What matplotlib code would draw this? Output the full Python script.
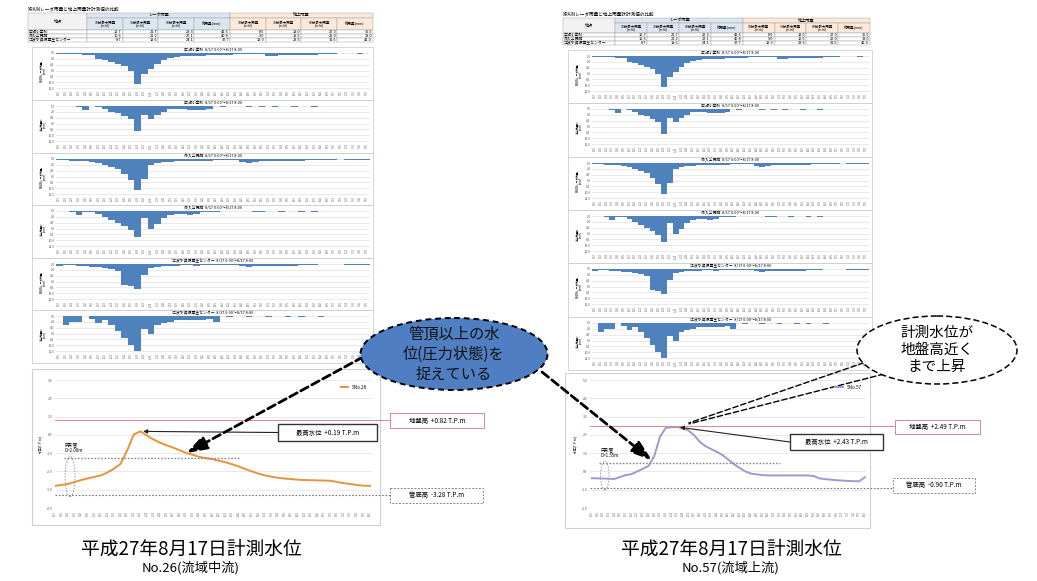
import numpy as np
import matplotlib
matplotlib.use("Agg")
import matplotlib.pyplot as plt
from matplotlib.patches import Rectangle, Ellipse

plt.rcParams['font.family'] = ['Noto Sans CJK JP', 'DejaVu Sans']

W, H = 1037, 581

# ---- table data ----
table_title = "XRAINレーダ雨量と地上雨量計計測値の比較"
stations = ["広瀬小学校", "舟入公民館", "江波水資源再生センター"]
col_heads = ["10分最大雨量\n(mm)", "30分最大雨量\n(mm)", "60分最大雨量\n(mm)", "総雨量(mm)"]
radar_tbl = [[10.7, 21.7, 29.3, 42.5], [10.6, 21.2, 27.1, 40.8], [8.7, 18.6, 24.1, 37.7]]
gauge_tbl = [[8.5, 18.0, 27.0, 35.5], [9.0, 19.5, 29.0, 38.0], [12.0, 23.5, 31.5, 42.0]]

# ---- 10 minute rainfall (mm), radar / gauge per station ----
radar_hirose = [0.2, 0.2, 0.3, 0.5, 0.8, 0.8, 2.2, 2.5, 3.0, 3.6, 4.6, 6.2, 10.7, 7.2, 5.3, 3.8,
                2.3, 1.6, 1.2, 1.0, 0.9, 0.9, 0.9, 0.8, 0.8, 0.7, 0.6, 0.5, 0.4, 0.3, 0.3, 0.5,
                0.9, 1.0, 0.8, 0.6, 0.7, 0.6, 0.6, 0.6, 0.5, 0.4, 0.2, 0.1, 0.1, 0.1, 0.2, 0.1]
gauge_hirose = [0, 0, 0, 0.5, 1.5, 0, 0.5, 1.0, 2.0, 2.5, 3.5, 4.5, 8.5, 3.0, 4.5, 3.0,
                2.0, 1.0, 1.0, 1.0, 1.5, 1.5, 1.5, 1.0, 0, 0.5, 0, 0, 0, 0.5, 0, 0.5,
                0, 0.5, 0, 0, 0.5, 0, 0, 0.5, 0, 0, 0, 0, 0, 0, 0, 0]
radar_funairi = [0.5, 0.4, 0.6, 0.6, 0.8, 1.1, 1.4, 2.0, 2.6, 3.4, 5.0, 7.2, 10.6, 6.8, 2.0, 1.4,
                 1.1, 0.9, 0.8, 0.8, 0.7, 0.8, 0.7, 0.6, 0.5, 0.4, 0.4, 0.5, 0.9, 1.2, 0.9, 0.7,
                 0.6, 0.7, 0.7, 0.8, 0.7, 0.6, 0.5, 0.3, 0.2, 0.2, 0.2, 0.1, 0.2, 0.2, 0.3, 0.2]
gauge_funairi = [0, 0, 0.5, 1.5, 0.5, 0.5, 1.0, 2.0, 3.0, 4.0, 5.0, 6.5, 9.0, 2.5, 6.0, 4.5,
                 2.5, 1.5, 1.0, 1.0, 1.5, 1.0, 0.5, 0.5, 0.5, 0, 0, 0, 0, 0, 0.5, 0.5,
                 0, 0, 0.5, 0, 0, 0.5, 0, 0.5, 0, 0, 0, 0, 0, 0, 0, 0]
radar_eba = [0.6, 0.5, 0.5, 0.6, 0.8, 1.0, 1.1, 1.3, 1.8, 2.5, 7.2, 7.6, 8.7, 3.8, 1.3, 1.0,
             0.8, 0.7, 0.6, 0.5, 0.5, 0.6, 0.5, 0.4, 0.4, 0.3, 0.3, 0.4, 0.8, 1.1, 0.7, 0.6,
             0.6, 0.7, 0.7, 0.6, 0.6, 0.5, 0.4, 0.2, 0.1, 0.1, 0.1, 0.1, 0.2, 0.2, 0.3, 0.2]
gauge_eba = [0, 3.0, 2.0, 2.0, 0, 1.0, 2.5, 1.5, 3.0, 5.0, 7.5, 10.0, 12.0, 4.5, 6.0, 3.0,
             2.5, 2.0, 1.5, 1.5, 1.5, 1.5, 1.5, 1.0, 2.0, 0, 0.5, 0, 0, 0.5, 0, 0,
             0.5, 0, 0, 0.5, 0, 0.5, 0, 0, 0.5, 0, 0, 0, 0, 0, 0, 0]
rain_ticks = [0, 2, 4, 6, 8, 10, 12]
bar_times = [f"{h}:{m:02d}" for h in range(8) for m in range(0, 60, 10)]

# ---- water level (T.P.m) ----
level_times = bar_times + ["8:00"]
lvl_no26 = [-2.79, -2.74, -2.68, -2.58, -2.47, -2.38, -2.30, -2.22, -2.05, -1.85, -1.58, -0.85,
            0.02, 0.19, -0.04, -0.25, -0.43, -0.57, -0.70, -0.84, -1.00, -1.09, -1.21, -1.27,
            -1.33, -1.42, -1.50, -1.61, -1.73, -1.87, -2.00, -2.12, -2.22, -2.29, -2.35, -2.39,
            -2.42, -2.45, -2.47, -2.48, -2.49, -2.50, -2.51, -2.58, -2.64, -2.69, -2.74, -2.78, -2.79]
lvl_no57 = [-0.37, -0.38, -0.39, -0.40, -0.41, -0.30, -0.20, -0.15, 0.00, 0.15, 0.30, 0.85,
            1.90, 2.38, 2.42, 2.43, 2.36, 2.24, 1.98, 1.62, 1.38, 1.22, 1.07, 0.89,
            0.65, 0.40, 0.18, 0.00, -0.12, -0.16, -0.20, -0.22, -0.22, -0.22, -0.22, -0.22,
            -0.22, -0.22, -0.22, -0.25, -0.38, -0.42, -0.45, -0.48, -0.50, -0.52, -0.53, -0.54, -0.32]
ground_no26, bottom_no26, dia_no26 = 0.82, -3.28, 2.00
ground_no57, bottom_no57, dia_no57 = 2.49, -0.90, 1.35

BAR_BLUE = "#4f81bd"
RED = "#e0848e"


def rect(x0, y0, x1, y1):
    return [x0 / W, 1 - y1 / H, (x1 - x0) / W, (y1 - y0) / H]


fig = plt.figure(figsize=(W / 100, H / 100), dpi=100)
bg = fig.add_axes([0, 0, 1, 1])
bg.set_xlim(0, W)
bg.set_ylim(H, 0)
bg.axis('off')


def draw_table(x0, x1, ys):
    name_w = (x1 - x0) * 0.171
    cw = (x1 - x0 - name_w) / 8
    xs = [x0 + name_w + cw * k for k in range(9)]
    bg.text(x0, ys[0] - 1.5, table_title, fontsize=3.3, va='bottom', ha='left')
    bg.add_patch(Rectangle((x0, ys[0]), name_w, ys[2] - ys[0], fc='#f2f2f2', ec='#999999', lw=0.3))
    bg.text(x0 + name_w / 2, (ys[0] + ys[2]) / 2, "地点", fontsize=3, ha='center', va='center')
    for g, (lab, fc) in enumerate([("レーダ雨量", "#dce6f1"), ("地上雨量", "#fde9d9")]):
        gx = xs[4 * g]
        bg.add_patch(Rectangle((gx, ys[0]), cw * 4, ys[1] - ys[0], fc=fc, ec='#999999', lw=0.3))
        bg.text(gx + cw * 2, (ys[0] + ys[1]) / 2, lab, fontsize=3, ha='center', va='center')
        for k, ch in enumerate(col_heads):
            cx = xs[4 * g + k]
            bg.add_patch(Rectangle((cx, ys[1]), cw, ys[2] - ys[1], fc=fc, ec='#999999', lw=0.3))
            bg.text(cx + cw / 2, (ys[1] + ys[2]) / 2, ch, fontsize=2.5, ha='center', va='center',
                    linespacing=1.1)
    for r, st in enumerate(stations):
        ry0, ry1 = ys[2 + r], ys[3 + r]
        bg.add_patch(Rectangle((x0, ry0), name_w, ry1 - ry0, fc='white', ec='#999999', lw=0.3))
        bg.text(x0 + 1, (ry0 + ry1) / 2, st, fontsize=2.8, ha='left', va='center')
        for k, v in enumerate(radar_tbl[r] + gauge_tbl[r]):
            bg.add_patch(Rectangle((xs[k], ry0), cw, ry1 - ry0, fc='white', ec='#999999', lw=0.3))
            bg.text(xs[k + 1] - 1, (ry0 + ry1) / 2, f"{v:.1f}", fontsize=2.8, ha='right', va='center')


def bar_panel(bx0, by0, bx1, by1, vals, title, ylab):
    bg.add_patch(Rectangle((bx0, by0), bx1 - bx0, by1 - by0, fill=False, ec='#d0d0d0', lw=0.6))
    ax = fig.add_axes(rect(bx0 + 24, by0 + 6, bx1 - 3, by0 + 42))
    ax.bar(np.arange(len(vals)), vals, width=1.0, color=BAR_BLUE)
    ax.set_xlim(-0.5, len(vals) - 0.5)
    ax.set_ylim(12.3, 0)
    ax.set_yticks(rain_ticks)
    ax.set_yticklabels([f"{t:.1f}" for t in rain_ticks], fontsize=2.2)
    ax.set_xticks(np.arange(len(vals)))
    ax.set_xticklabels(bar_times, rotation=90, fontsize=1.8)
    ax.tick_params(length=0, pad=1, colors='#555555')
    ax.grid(axis='y', color='#d9d9d9', lw=0.4)
    ax.set_axisbelow(True)
    for s in ax.spines.values():
        s.set_visible(False)
    ax.set_title(title, fontsize=2.8, pad=1)
    ax.set_ylabel(ylab, fontsize=2.0, labelpad=1, linespacing=1.0)
    return ax


def level_panel(box, plot, vals, ylim, xlim, color, lab):
    bg.add_patch(Rectangle((box[0], box[1]), box[2] - box[0], box[3] - box[1],
                           fill=False, ec='#d0d0d0', lw=0.8))
    ax = fig.add_axes(rect(*plot))
    ax.plot(np.arange(len(vals)), vals, color=color, lw=1.4, label=lab)
    ax.set_ylim(*ylim)
    ax.set_xlim(*xlim)
    ticks = np.arange(ylim[0], ylim[1] + 0.5, 1.0)
    ax.set_yticks(ticks)
    ax.set_yticklabels([f"{t:.1f}" for t in ticks], fontsize=2.4)
    ax.set_xticks(np.arange(len(vals)))
    ax.set_xticklabels(level_times, rotation=90, fontsize=1.8)
    ax.tick_params(length=0, pad=2, colors='#555555')
    ax.grid(axis='y', color='#e0e0e0', lw=0.5)
    ax.set_axisbelow(True)
    for s in ax.spines.values():
        s.set_visible(False)
    ax.set_ylabel("水位(T.P.m)", fontsize=2.4, labelpad=3)
    ax.legend(loc='upper right', fontsize=3.3, frameon=False, handlelength=1.6, borderaxespad=0.6)
    return ax


# ---- left and right columns: tables and rainfall panels ----
panel_sets = [(radar_hirose, stations[0], "XRAINレーダ雨量\n(mm)"),
              (gauge_hirose, stations[0], "地上雨量計\n(mm)"),
              (radar_funairi, stations[1], "XRAINレーダ雨量\n(mm)"),
              (gauge_funairi, stations[1], "地上雨量計\n(mm)"),
              (radar_eba, stations[2], "XRAINレーダ雨量\n(mm)"),
              (gauge_eba, stations[2], "地上雨量計\n(mm)")]

draw_table(28, 373, [13, 18, 30, 34, 38, 42])
draw_table(563, 870, [18, 23, 33, 37, 41, 45])

left_tops = [47, 100, 153, 205, 258, 310, 363]
right_tops = [50, 103, 157, 210, 263, 317, 370]
for k, (vals, st, ylab) in enumerate(panel_sets):
    ttl = f"{st}  8/17 0:00～8/17 8:00"
    bar_panel(32, left_tops[k], 373, left_tops[k + 1], vals, ttl, ylab)
    bar_panel(568, right_tops[k], 872, right_tops[k + 1], vals, ttl, ylab)

# ---- water level charts ----
L_PLOT = (55, 380, 372, 508)
R_PLOT = (590, 380, 866, 508)
ax26 = level_panel((32, 369, 380, 525), L_PLOT, lvl_no26, (-4, 3), (0, 48.3), "#e8923c", "SNo.26")
ax57 = level_panel((565, 373, 870, 528), R_PLOT, lvl_no57, (-2, 5), (-0.3, 48.2), "#9b9bd0", "SNo.57")

ov = fig.add_axes([0, 0, 1, 1], zorder=10)
ov.set_xlim(0, W)
ov.set_ylim(H, 0)
ov.axis('off')


def level_notes(ax, plot, vals, ground, bottom, dia, gbox, mbox, bbox, top_end, pipe_x):
    px0, px1 = plot[0], plot[2]
    ax.axhline(ground, xmin=0, xmax=(gbox[0] - px0) / (px1 - px0), color=RED, lw=0.7, clip_on=False)
    ax.axhline(bottom, xmin=0, xmax=(bbox[0] - px0) / (px1 - px0), color='#777777', lw=0.8,
               ls=(0, (1.5, 1.5)), clip_on=False)
    top = bottom + dia
    ax.plot([pipe_x - 1, top_end], [top, top], color='#888888', lw=1.0, ls=(0, (1.2, 1.2)))
    ax.add_patch(Ellipse((pipe_x, bottom + dia / 2), width=1.5, height=dia + 0.2, fill=False,
                         ec='#999999', lw=0.7, ls=(0, (1.5, 1.5)), clip_on=False))
    ax.text(pipe_x - 0.8, top + 0.3, f"円形管\nD={dia:.2f}m", fontsize=3.2, va='bottom', ha='left',
            linespacing=1.2)
    imax = int(np.argmax(vals))
    vmax = vals[imax]
    # boxes
    for (x0, y0, x1, y1), txt, ec, ls, lw in [
            (gbox, f"地盤高  {ground:+.2f} T.P.m", RED, '-', 0.7),
            (mbox, f"最高水位  {vmax:+.2f} T.P.m", '#333333', '-', 1.0),
            (bbox, f"管底高  {bottom:+.2f} T.P.m", '#888888', (0, (2, 1.5)), 0.7)]:
        ov.add_patch(Rectangle((x0, y0), x1 - x0, y1 - y0, fc='white', ec=ec, lw=lw, ls=ls))
        ov.text((x0 + x1) / 2, (y0 + y1) / 2, txt, fontsize=4.6, ha='center', va='center')
    ax.annotate('', xy=(imax, vmax), xytext=(mbox[0], (mbox[1] + mbox[3]) / 2),
                textcoords=ov.transData, annotation_clip=False,
                arrowprops=dict(arrowstyle='-|>', color='#222222', lw=0.8, mutation_scale=6,
                                shrinkA=0, shrinkB=2))
    return imax, vmax


level_notes(ax26, L_PLOT, lvl_no26, ground_no26, bottom_no26, dia_no26,
            (390, 413, 484, 428), (278, 424, 377, 441), (390, 488, 483, 503), 28, 2.3)
i57, v57 = level_notes(ax57, R_PLOT, lvl_no57, ground_no57, bottom_no57, dia_no57,
                       (895, 420, 980, 434), (790, 434, 883, 450), (893, 478, 975, 493), 33, 2.3)

# ---- callouts ----
dash_arrow = dict(arrowstyle='-|>,head_length=0.9,head_width=0.3', color='black', lw=2.0,
                  ls=(0, (3, 1.5)), mutation_scale=14, shrinkA=0, shrinkB=0)
ax26.annotate('', xy=(20, lvl_no26[20]), xytext=(363, 357), textcoords=ov.transData,
              annotation_clip=False, arrowprops=dash_arrow)
ax57.annotate('', xy=(10.6, lvl_no57[10] + 0.3), xytext=(542, 372), textcoords=ov.transData,
              annotation_clip=False, arrowprops=dash_arrow)

ov.add_patch(Ellipse((454, 354), 187, 72, fc='#4f7fc2', ec='black', lw=1.4, ls=(0, (3, 2))))
ov.text(454, 354, "管頂以上の水\n位(圧力状態)を\n捉えている", fontsize=11, ha='center', va='center',
        color='#111111', linespacing=1.25)

for sx, sy in [(872, 360), (884, 374)]:
    ax57.annotate('', xy=(i57, v57), xytext=(sx, sy), textcoords=ov.transData,
                  annotation_clip=False,
                  arrowprops=dict(arrowstyle='-', color='black', lw=1.0, ls=(0, (4, 2)),
                                  shrinkA=0, shrinkB=9))
ov.add_patch(Ellipse((937, 350), 160, 68, fc='white', ec='black', lw=1.1, ls=(0, (4, 2))))
ov.text(937, 350, "計測水位が\n地盤高近く\nまで上昇", fontsize=10.5, ha='center', va='center',
        linespacing=1.25)

# ---- captions ----
for cx, sub in [(191, "No.26(流域中流)"), (731, "No.57(流域上流)")]:
    ov.text(cx, 549, "平成27年8月17日計測水位", fontsize=13.5, ha='center', va='center')
    ov.text(cx, 568, sub, fontsize=9.5, ha='center', va='center')

fig.savefig("out.png", dpi=100)
